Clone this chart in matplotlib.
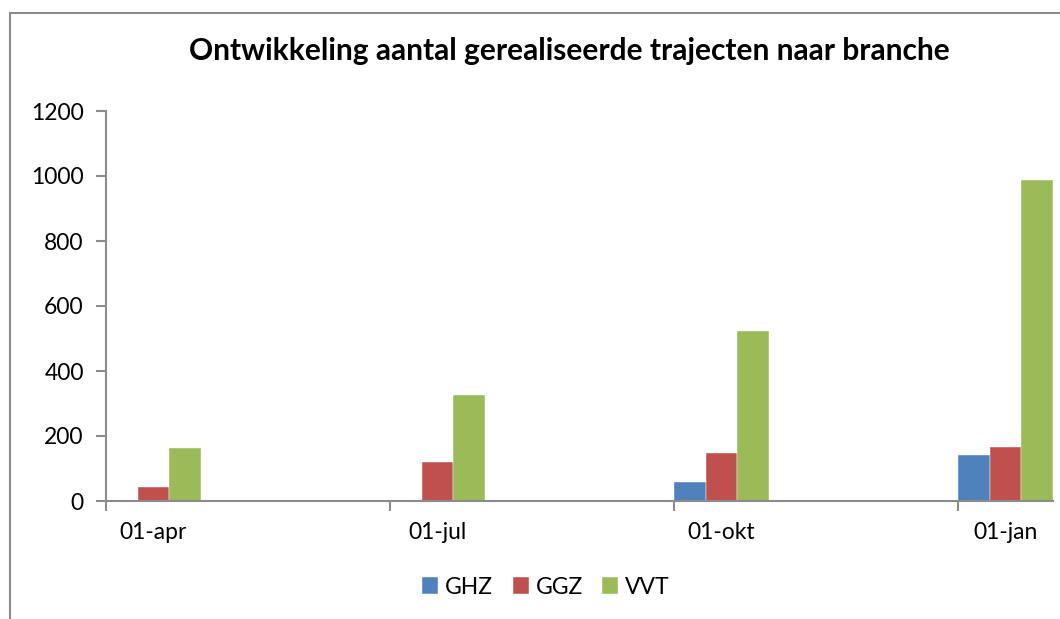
import matplotlib
matplotlib.use("Agg")
import matplotlib.pyplot as plt
from matplotlib.patches import Rectangle
import numpy as np

categories = ["01-apr", "01-jul", "01-okt", "01-jan"]
series_names = ["GHZ", "GGZ", "VVT"]
ghz = [0, 3, 59, 141]
ggz = [44, 119, 148, 166]
vvt = [162, 326, 523, 988]
colors = ["#4F81BD", "#C0504D", "#9BBB59"]
yticks = [0, 200, 400, 600, 800, 1000, 1200]

plt.rcParams['font.family'] = ['Lato', 'DejaVu Sans']

W, H = 1060, 619
fig = plt.figure(figsize=(W / 100, H / 100), dpi=100)
# outer chart frame (partially cut off at right/bottom)
fig.patches.append(Rectangle((10 / W, -0.1), 1.2, (H - 13) / H + 0.1,
                             transform=fig.transFigure, fill=False,
                             edgecolor="#8C8C8C", linewidth=1.5))

left, right = 106, 1053
bottom, top = 501, 111
ax = fig.add_axes([left / W, 1 - bottom / H, (right - left) / W, (bottom - top) / H])

x = np.arange(len(categories))
bw = 1 / 9
for k, (vals, c, name) in enumerate(zip([ghz, ggz, vvt], colors, series_names)):
    ax.bar(x + k * bw, vals, width=bw, align="edge", color=c, label=name,
           edgecolor="white", linewidth=0.3)

ax.set_xlim(0, 3 + 1 / 3)
ax.set_ylim(0, 1200)
ax.set_yticks(yticks)
ax.set_yticklabels([str(v) for v in yticks], fontsize=16.5)
ax.set_xticks(x)
ax.set_xticklabels([])
ax.set_xticks(x + 1 / 6, minor=True)
ax.set_xticklabels(categories, minor=True, fontsize=16.5)
ax.tick_params(axis="x", which="major", length=7, width=1.5, color="#8C8C8C", direction="out")
ax.tick_params(axis="x", which="minor", length=0, pad=15)
ax.tick_params(axis="y", length=7, width=1.5, color="#8C8C8C", pad=9)
for s in ["top", "right"]:
    ax.spines[s].set_visible(False)
for s in ["left", "bottom"]:
    ax.spines[s].set_color("#8C8C8C")
    ax.spines[s].set_linewidth(1.5)

fig.text(569 / W, 1 - 51 / H, "Ontwikkeling aantal gerealiseerde trajecten naar branche",
         ha="center", va="center", fontsize=21.5, fontweight="bold")

fig.legend(loc="center", bbox_to_anchor=(546 / W, 1 - 587 / H), ncol=3, frameon=False,
           fontsize=16.5, handlelength=0.7, handleheight=0.7, handletextpad=0.3,
           columnspacing=0.85)

fig.savefig("out.png", dpi=100)
